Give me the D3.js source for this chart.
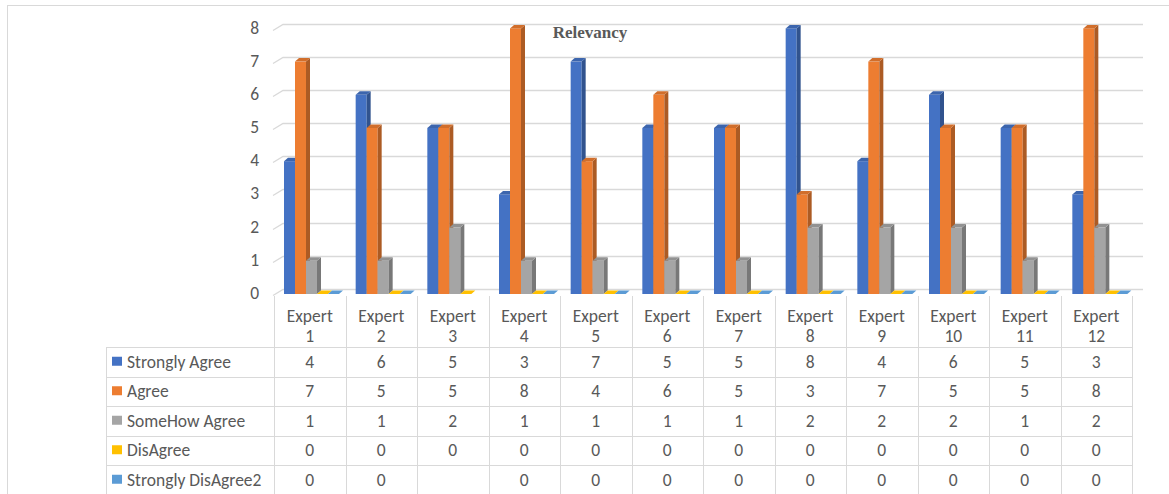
<!DOCTYPE html>
<html>
<head>
<meta charset="utf-8">
<script src="https://cdn.jsdelivr.net/npm/d3@7"></script>
<style>
  html, body { margin: 0; padding: 0; background: #fff; }
  svg { display: block; }
  text { font-family: Carlito, Lato, "Open Sans", sans-serif; fill: #595959; }
</style>
</head>
<body>
<svg id="chart" width="1169" height="494"></svg>
<script>
// Survey responses per expert
const categories = ["Expert 1","Expert 2","Expert 3","Expert 4","Expert 5","Expert 6",
                    "Expert 7","Expert 8","Expert 9","Expert 10","Expert 11","Expert 12"];
const seriesNames = ["Strongly Agree","Agree","SomeHow Agree","DisAgree","Strongly DisAgree2"];
const stronglyAgree    = [4,6,5,3,7,5,5,8,4,6,5,3];
const agree            = [7,5,5,8,4,6,5,3,7,5,5,8];
const somehowAgree     = [1,1,2,1,1,1,1,2,2,2,1,2];
const disagree         = [0,0,0,0,0,0,0,0,0,0,0,0];
const stronglyDisagree = [0,0,null,0,0,0,0,0,0,0,0,0];
const yTicks = [0,1,2,3,4,5,6,7,8];
const chartTitle = "Relevancy";

const seriesValues = [stronglyAgree, agree, somehowAgree, disagree, stronglyDisagree];
const colors = ["#4472C4","#ED7D31","#A5A5A5","#FFC000","#5B9BD5"];

const svg = d3.select("#chart");
const grid = "#D9D9D9";
const fs = 17.5;

// outer chart-area border
svg.append("rect").attr("x", 7.5).attr("y", 5.5).attr("width", 1180).attr("height", 500)
  .attr("fill", "none").attr("stroke", grid);

// scales: back wall (gridlines) and front plane (bar faces)
const yBack = d3.scaleLinear().domain([0, 8]).range([289, 23.5]);
const yFront = d3.scaleLinear().domain([0, 8]).range([294, 28.4]);
const xTable = d3.scaleBand().domain(categories).range([274, 1132]);
const xBars = d3.scaleBand().domain(categories).range([283, 1143]);
const xSeries = d3.scaleBand().domain(seriesNames).range([1, 56]);
const depthX = 4, depthY = 3.5;

// gridlines with perspective stub at the left
const gl = svg.append("g");
yTicks.forEach(t => {
  const yb = Math.round(yBack(t)) + 0.5;
  gl.append("path")
    .attr("d", `M273,${yb + 6} L283,${yb} L1143,${yb}`)
    .attr("fill", "none").attr("stroke", grid).attr("stroke-width", 1.3);
  gl.append("text").attr("x", 259).attr("y", yb + 9)
    .attr("text-anchor", "end").attr("font-size", fs).text(t);
});

// 3D columns
const shade = (c, k) => d3.color(c).darker(k).formatHex();
const bars = svg.append("g");
categories.forEach((cat, ci) => {
  seriesNames.forEach((s, si) => {
    const v = seriesValues[si][ci];
    if (v === null || v === undefined) return;
    const x0 = xBars(cat) + xSeries(s);
    const w = xSeries.bandwidth();
    const yb = yFront(0);
    const yt = yFront(v);
    const c = colors[si];
    if (v > 0) {
      bars.append("rect").attr("x", x0).attr("y", yt).attr("width", w).attr("height", yb - yt)
        .attr("fill", c);
      bars.append("path")
        .attr("d", `M${x0 + w},${yt} L${x0 + w + depthX},${yt - depthY} L${x0 + w + depthX},${yb - depthY} L${x0 + w},${yb} Z`)
        .attr("fill", shade(c, 0.9));
    }
    bars.append("path")
      .attr("d", `M${x0},${yt} L${x0 + w},${yt} L${x0 + w + depthX},${yt - depthY} L${x0 + depthX},${yt - depthY} Z`)
      .attr("fill", v > 0 ? shade(c, 0.35) : c);
  });
});

// title
svg.append("text").attr("x", 590).attr("y", 38).attr("text-anchor", "middle")
  .style("font-family", '"Liberation Serif", "Times New Roman", serif')
  .attr("font-weight", "bold").attr("font-size", 17).text(chartTitle);

// data table
const tbl = svg.append("g");
const rowTops = [347, 376.5, 406, 435.5, 465, 494.5];
rowTops.forEach(y => {
  tbl.append("line").attr("x1", 106).attr("x2", 1132).attr("y1", Math.round(y) + 0.5).attr("y2", Math.round(y) + 0.5)
    .attr("stroke", grid);
});
tbl.append("line").attr("x1", 106.5).attr("x2", 106.5).attr("y1", 347).attr("y2", 494).attr("stroke", grid);
categories.concat([null]).forEach((cat, i) => {
  const x = cat === null ? xTable.range()[1] : xTable(cat);
  tbl.append("line").attr("x1", Math.round(x) + 0.5).attr("x2", Math.round(x) + 0.5)
    .attr("y1", 296).attr("y2", 494).attr("stroke", grid);
});
categories.forEach(cat => {
  const cx = xTable(cat) + xTable.bandwidth() / 2;
  const parts = cat.split(" ");
  tbl.append("text").attr("x", cx).attr("y", 322).attr("text-anchor", "middle").attr("font-size", fs).text(parts[0]);
  tbl.append("text").attr("x", cx).attr("y", 342).attr("text-anchor", "middle").attr("font-size", fs).text(parts[1]);
});
seriesNames.forEach((s, si) => {
  const mid = (rowTops[si] + rowTops[si + 1]) / 2;
  tbl.append("rect").attr("x", 112).attr("y", mid - 5).attr("width", 10).attr("height", 9).attr("fill", colors[si]);
  tbl.append("text").attr("x", 127).attr("y", mid + 6).attr("font-size", fs).text(s);
  categories.forEach((cat, ci) => {
    const v = seriesValues[si][ci];
    if (v === null || v === undefined) return;
    tbl.append("text").attr("x", xTable(cat) + xTable.bandwidth() / 2).attr("y", mid + 6)
      .attr("text-anchor", "middle").attr("font-size", fs).text(v);
  });
});
</script>
</body>
</html>
